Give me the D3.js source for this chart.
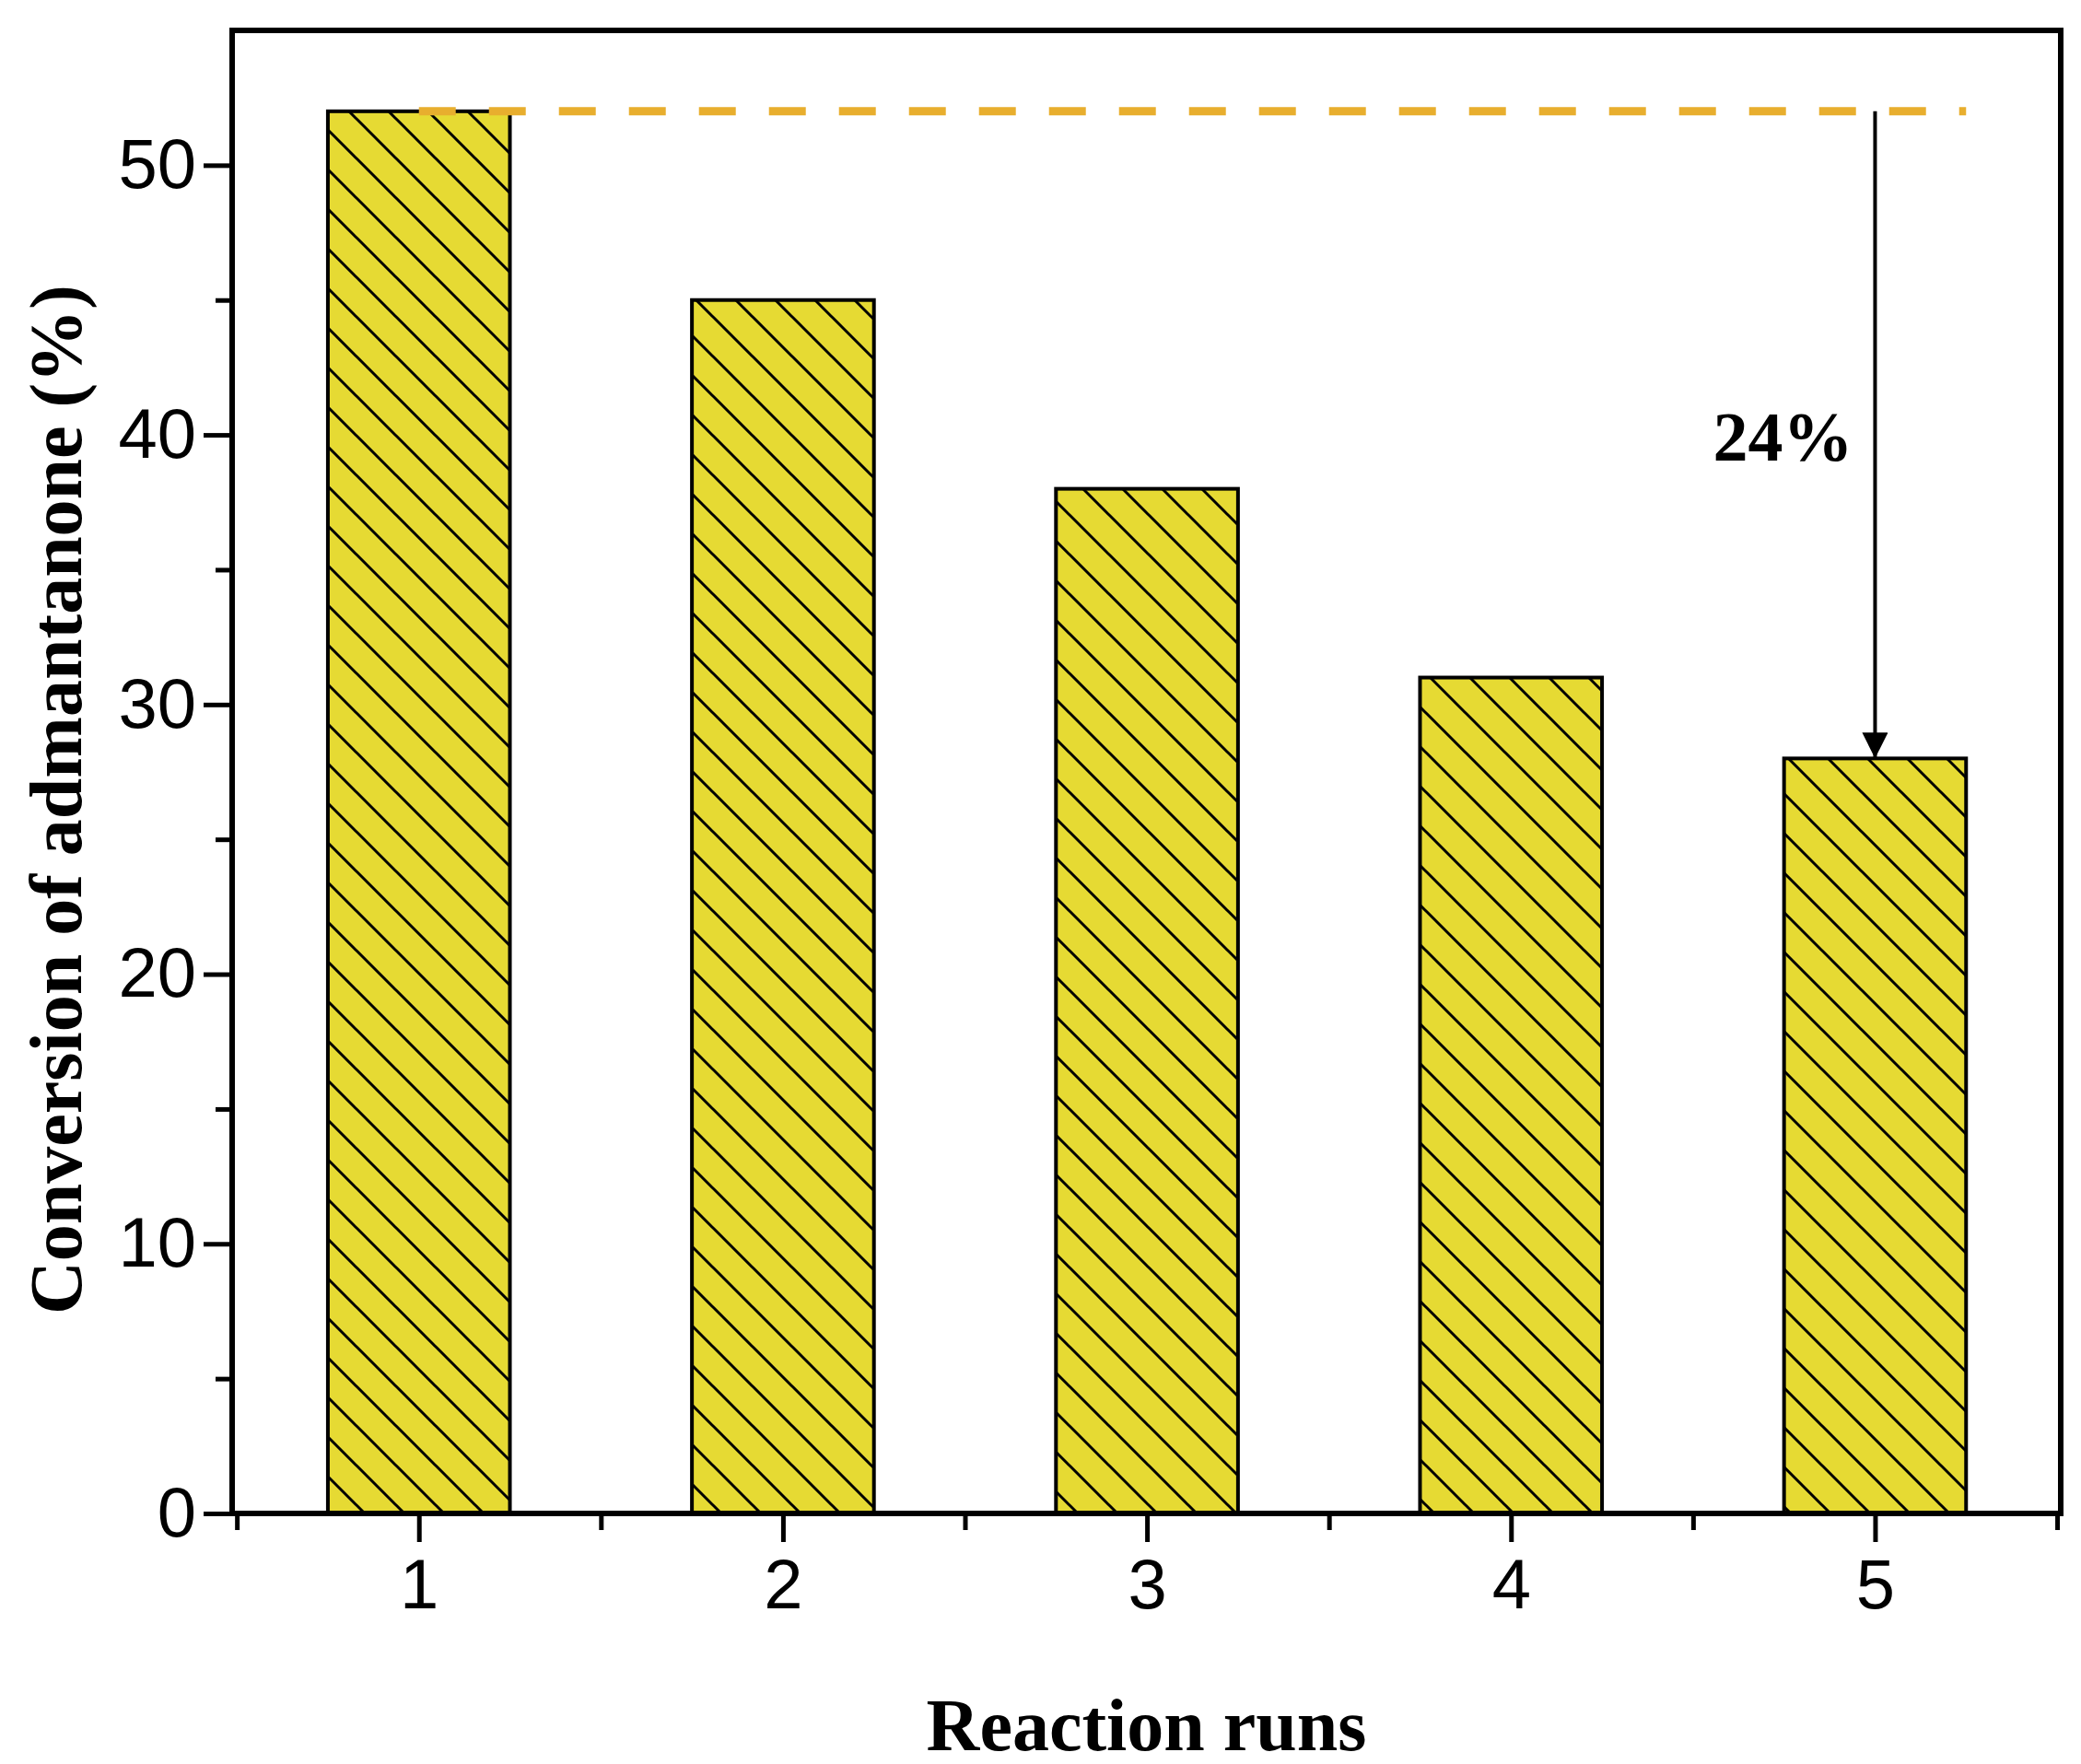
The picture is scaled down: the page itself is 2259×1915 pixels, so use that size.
<!DOCTYPE html>
<html><head><meta charset="utf-8">
<script src="https://cdn.jsdelivr.net/npm/d3@7"></script>
<style>body{margin:0;background:#fff}</style></head>
<body><div id="chart"></div>
<script>
const runs = [1, 2, 3, 4, 5];
const conversion = [52, 45, 38, 31, 28];
const yTicks = [0, 10, 20, 30, 40, 50];
const annotation = "24%";

const W = 2259, H = 1915;
const plotLeft = 252, plotRight = 2237, plotTop = 33, plotBottom = 1643;

const svg = d3.select("#chart").append("svg").attr("width", W).attr("height", H)
    .style("font-family", "'Liberation Serif', 'Times New Roman', serif");

const x = d3.scaleLinear().domain([0.487, 5.51]).range([plotLeft, plotRight]);
const y = d3.scaleLinear().domain([0, 55]).range([plotBottom, plotTop]);

// hatch pattern
const defs = svg.append("defs");
const pat = defs.append("pattern").attr("id", "hatch").attr("patternUnits", "userSpaceOnUse")
    .attr("width", 43).attr("height", 43);
pat.append("rect").attr("width", 43).attr("height", 43).attr("fill", "#e6da33");
pat.append("path").attr("d", "M-5,-5 L48,48 M-5,38 L5,48 M38,-5 L48,5")
    .attr("stroke", "#000").attr("stroke-width", 3);

const bw = x(1.25) - x(0.75);
svg.selectAll("rect.bar").data(runs).join("rect").attr("class", "bar")
    .attr("x", d => x(d) - bw / 2).attr("width", bw)
    .attr("y", (d, i) => y(conversion[i])).attr("height", (d, i) => plotBottom - y(conversion[i]))
    .attr("fill", "url(#hatch)").attr("stroke", "#000").attr("stroke-width", 4);

// dashed reference line
svg.append("line").attr("x1", x(1)).attr("x2", x(5.25))
    .attr("y1", y(conversion[0])).attr("y2", y(conversion[0]))
    .attr("stroke", "#e8ae2e").attr("stroke-width", 9).attr("stroke-dasharray", "40,36");

// arrow
defs.append("marker").attr("id", "arr").attr("viewBox", "0 0 10 10").attr("refX", 10).attr("refY", 5)
    .attr("markerWidth", 44).attr("markerHeight", 28).attr("markerUnits", "userSpaceOnUse")
    .attr("orient", "auto").append("path").attr("d", "M0,0 L10,5 L0,10 Z");
svg.append("line").attr("x1", x(5)).attr("x2", x(5))
    .attr("y1", y(conversion[0])).attr("y2", y(conversion[4]))
    .attr("stroke", "#000").attr("stroke-width", 4).attr("marker-end", "url(#arr)");
svg.append("text").attr("x", x(5) - 100).attr("y", y(40) + 28).attr("text-anchor", "middle")
    .attr("font-weight", "bold").attr("font-size", 76).text(annotation);

// axes
svg.append("g").attr("transform", `translate(${plotLeft},0)`)
    .call(d3.axisLeft(y).tickValues(yTicks).tickSize(31).tickPadding(8).tickFormat(d3.format("d")));
svg.append("g").attr("transform", `translate(${plotLeft},0)`)
    .call(d3.axisLeft(y).tickValues(d3.range(5, 55, 10)).tickSize(18).tickFormat(""));
svg.append("g").attr("transform", `translate(0,${plotBottom})`)
    .call(d3.axisBottom(x).tickValues(runs).tickSize(31).tickPadding(18).tickFormat(d3.format("d")));
svg.append("g").attr("transform", `translate(0,${plotBottom})`)
    .call(d3.axisBottom(x).tickValues([0.5, 1.5, 2.5, 3.5, 4.5, 5.5]).tickSize(18).tickFormat(""));
svg.selectAll(".domain").remove();
svg.selectAll(".tick line").attr("stroke-width", 5);
svg.selectAll(".tick text").attr("font-size", 76).attr("fill", "#000");

// frame
svg.append("rect").attr("x", plotLeft).attr("y", plotTop)
    .attr("width", plotRight - plotLeft).attr("height", plotBottom - plotTop)
    .attr("fill", "none").attr("stroke", "#000").attr("stroke-width", 6);

// titles
svg.append("text").attr("x", (plotLeft + plotRight) / 2).attr("y", 1900).attr("text-anchor", "middle")
    .attr("font-weight", "bold").attr("font-size", 80).text("Reaction runs");
svg.append("text").attr("transform", `translate(88,${(plotTop + plotBottom) / 2 + 30}) rotate(-90)`)
    .attr("text-anchor", "middle").attr("font-weight", "bold").attr("font-size", 80)
    .text("Conversion of admantanone (%)");
</script></body></html>
